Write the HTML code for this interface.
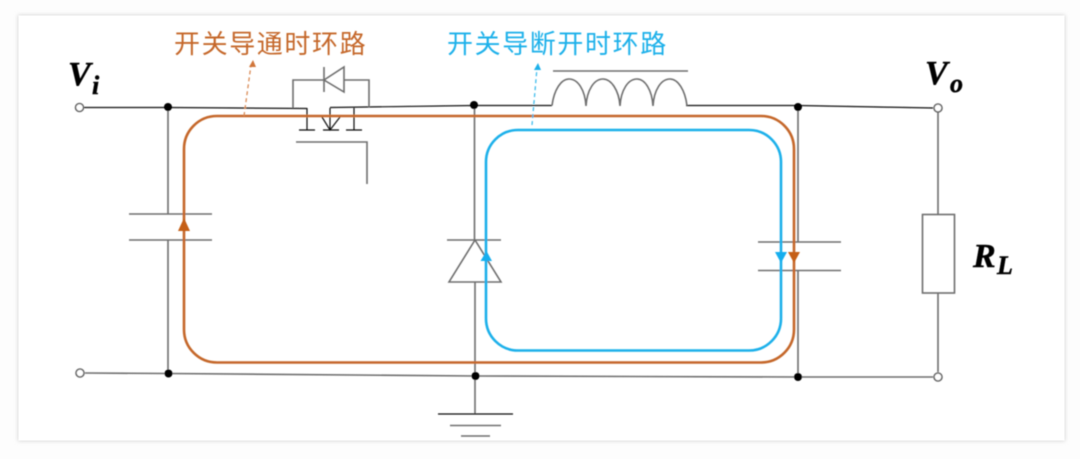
<!DOCTYPE html>
<html lang="zh">
<head>
<meta charset="utf-8">
<style>
html,body{margin:0;padding:0;width:1080px;height:459px;overflow:hidden;background:#fdfdfd}
svg{display:block}
.k{fill:none;stroke:#111;stroke-width:1.2}
.g{fill:none;stroke:#6e6e6e;stroke-width:1.6}
.d{fill:#000}
.o{fill:#fff;stroke:#666;stroke-width:1.6}
.t{font-family:"Liberation Sans","Noto Sans CJK SC",sans-serif;font-size:26px;letter-spacing:1.6px}
.m{font-family:"Liberation Serif",serif;font-weight:bold;font-style:italic;fill:#000;stroke:#000;stroke-width:.5}
</style>
</head>
<body>
<svg width="1080" height="459" viewBox="0 0 1080 459" xmlns="http://www.w3.org/2000/svg">
<defs>
<filter id="s" x="-5%" y="-5%" width="110%" height="110%"><feGaussianBlur stdDeviation="2"/></filter>
<filter id="b" x="-2%" y="-2%" width="104%" height="104%"><feGaussianBlur stdDeviation="0.4"/></filter>
</defs>
<rect x="18" y="15" width="1047" height="426" fill="#d4d4d4" filter="url(#s)"/>
<rect x="18.500" y="15.500" width="1046" height="425" fill="#fff"/>
<g filter="url(#b)">
<!-- top rail -->
<path class="k" d="M84 107.500H168L307 108.500"/>
<path class="k" d="M330 107.500L474 105.500H552"/>
<path class="k" d="M686 105.500H798L933 108"/>
<!-- bottom rail -->
<path class="g" d="M85 373L168 373.500L475 376L798 377H933"/>
<!-- left capacitor -->
<path class="g" d="M168 107V214M129 214H212M129 240H212M168 240V373"/>
<!-- MOSFET -->
<path class="k" d="M307 108V130M299 130H315M323 130H339M346 130H362M354 108V130M330 108V130M322 117L330 130L340 117"/>
<path class="g" d="M296 142H367V184"/>
<path class="g" d="M293 108V80H324M344 80H369V107"/>
<path class="g" stroke-width="2" d="M324 67V92M324 80L344 67V92Z"/>
<!-- inductor -->
<path class="g" d="M553 71H688"/>
<path class="g" d="M552 105.500C554 90 561 79 569 79C578 79 585 90 586 106C587 90 594 79 603 79C611 79 619 90 620 106C621 90 628 79 637 79C645 79 652 90 653 106C654 90 661 79 670 79C678 79 685 90 687 105.500"/>
<!-- freewheel diode -->
<path class="g" d="M474.500 105V240M447 240H501M475 240L449 282H501Z"/>
<path class="g" d="M475 282V376V414"/>
<!-- ground -->
<path class="k" d="M438 414H513"/>
<path class="g" d="M450 425.500H501M461 436H490"/>
<!-- right capacitor -->
<path class="g" d="M798 107V242M758 242H841M758 270.500H841M798 270V377"/>
<!-- load -->
<path class="g" d="M938 112V214M938 293V372"/>
<rect class="g" x="922.500" y="214.500" width="32" height="78.500"/>
<!-- loops -->
<rect x="184" y="116" width="610" height="246.500" rx="33" fill="none" stroke="#c5672a" stroke-width="2.600"/>
<rect x="486" y="130" width="295" height="220.500" rx="32" fill="none" stroke="#1bb0ea" stroke-width="2.600"/>
<!-- arrowheads -->
<path fill="#c55f16" d="M184 218L190 231H178Z"/>
<path fill="#c55f16" d="M788 252H800L794 263Z"/>
<path fill="#14aeee" d="M775 252H787L781 263Z"/>
<path fill="#14aeee" d="M486.500 251L492 261H480.500Z"/>
<!-- dashed leaders -->
<path d="M244 116L251 65" fill="none" stroke="#d98a55" stroke-width="1.300" stroke-dasharray="4 3"/>
<path fill="#d0763a" d="M253 60L256 67H249Z"/>
<path d="M532 125L537 68" fill="none" stroke="#3fbcec" stroke-width="1.300" stroke-dasharray="4 3"/>
<path fill="#1bb0ea" d="M538 63L541 70H534Z"/>
<!-- nodes -->
<circle class="d" cx="168" cy="107" r="4"/>
<circle class="d" cx="168.500" cy="373.500" r="4"/>
<circle class="d" cx="474" cy="105" r="4"/>
<circle class="d" cx="475.500" cy="376" r="4"/>
<circle class="d" cx="798" cy="107" r="4"/>
<circle class="d" cx="798" cy="377" r="4"/>
<circle class="o" cx="79.500" cy="107.500" r="4"/>
<circle class="o" cx="80" cy="373" r="4"/>
<circle class="o" cx="938" cy="108" r="4"/>
<circle class="o" cx="938" cy="377" r="4"/>
<!-- text -->
<text class="t" x="174" y="53" fill="#c5672a">开关导通时环路</text>
<text class="t" x="447" y="53" fill="#1bb0ea">开关导断开时环路</text>
<text class="m" x="68" y="85" font-size="34">V</text>
<text class="m" x="92" y="94" font-size="26">i</text>
<text class="m" x="925" y="84" font-size="34">V</text>
<text class="m" x="950" y="92" font-size="26">o</text>
<text class="m" x="973" y="267" font-size="34">R</text>
<text class="m" x="997" y="274" font-size="26">L</text>
</g>
</svg>
</body>
</html>
